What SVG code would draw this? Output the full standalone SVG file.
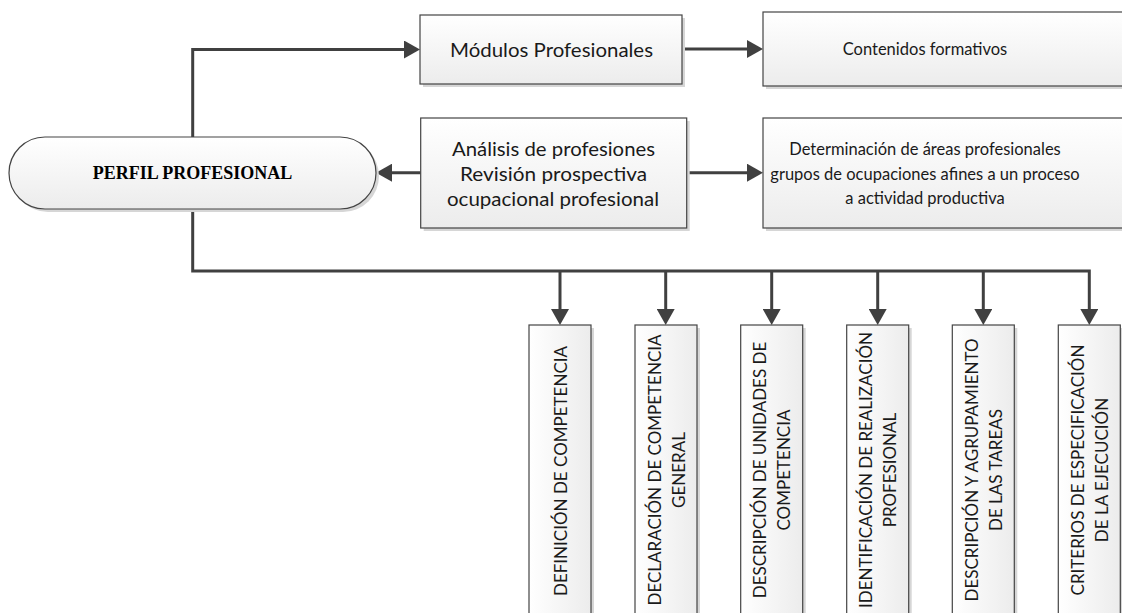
<svg xmlns="http://www.w3.org/2000/svg" width="1122" height="613" viewBox="0 0 1122 613">
<defs>
<linearGradient id="gv" x1="0" y1="0" x2="0" y2="1"><stop offset="0" stop-color="#ffffff"/><stop offset="1" stop-color="#ececec"/></linearGradient>
<linearGradient id="gh" x1="0" y1="0" x2="1" y2="0"><stop offset="0" stop-color="#ffffff"/><stop offset="1" stop-color="#ececec"/></linearGradient>
<marker id="ah" markerUnits="userSpaceOnUse" markerWidth="17" markerHeight="18" refX="8" refY="9" orient="auto"><path d="M0,0 L16,9 L0,18 z" fill="#404040"/></marker>
<style>
.bx{fill:url(#gv);stroke:#444444;stroke-width:1.2}
.bv{fill:url(#gh);stroke:#444444;stroke-width:1.2}
.sh{fill:#d6d6d6}
.t{font-family:Lato,"Open Sans",sans-serif;font-size:16.5px;fill:#1a1a1a;text-anchor:middle;dominant-baseline:central}
.tl{font-family:Lato,"Open Sans",sans-serif;font-size:19.5px;fill:#1a1a1a;text-anchor:middle;dominant-baseline:central}
.tv{font-family:Lato,"Open Sans",sans-serif;font-size:17px;fill:#1a1a1a;text-anchor:middle;dominant-baseline:central}
.tp{font-family:"Liberation Serif",serif;font-size:18px;font-weight:bold;fill:#000;text-anchor:middle;dominant-baseline:central}
.c{fill:none;stroke:#404040;stroke-width:3}
</style>
</defs>
<g id="connectors">
<path class="c" d="M192.7,137 V49.5 H412" marker-end="url(#ah)"/>
<path class="c" d="M682,49 H755" marker-end="url(#ah)"/>
<path class="c" d="M420.7,172.7 H384" marker-end="url(#ah)"/>
<path class="c" d="M687,172.7 H755" marker-end="url(#ah)"/>
<path class="c" d="M192.7,209 V271 H1089.3 V317" marker-end="url(#ah)"/>
<path class="c" d="M560,271 V317" marker-end="url(#ah)"/>
<path class="c" d="M665.7,271 V317" marker-end="url(#ah)"/>
<path class="c" d="M771.7,271 V317" marker-end="url(#ah)"/>
<path class="c" d="M877.7,271 V317" marker-end="url(#ah)"/>
<path class="c" d="M983.3,271 V317" marker-end="url(#ah)"/>
</g>
<g id="perfil">
<rect class="sh" x="12" y="140" width="367" height="72" rx="36"/>
<rect class="bx" x="9" y="137" width="367" height="72" rx="36"/>
<text class="tp" x="192.5" y="173">PERFIL PROFESIONAL</text>
</g>
<g id="modulos">
<rect class="sh" x="423" y="18" width="262" height="69"/>
<rect class="bx" x="420" y="15" width="262" height="69"/>
<text class="tl" x="551.5" y="49.5" textLength="203" lengthAdjust="spacingAndGlyphs">Módulos Profesionales</text>
</g>
<g id="contenidos">
<rect class="sh" x="766" y="15" width="370" height="74"/>
<rect class="bx" x="763" y="12" width="370" height="74"/>
<text class="t" x="925" y="49">Contenidos formativos</text>
</g>
<g id="analisis">
<rect class="sh" x="423.7" y="121" width="266" height="110"/>
<rect class="bx" x="420.7" y="118" width="266" height="110"/>
<text class="tl" x="553.5" y="148" textLength="203" lengthAdjust="spacingAndGlyphs">Análisis de profesiones</text>
<text class="tl" x="553.5" y="173" textLength="187" lengthAdjust="spacingAndGlyphs">Revisión prospectiva</text>
<text class="tl" x="553" y="198.5" textLength="212" lengthAdjust="spacingAndGlyphs">ocupacional profesional</text>
</g>
<g id="determinacion">
<rect class="sh" x="766" y="121" width="370" height="110"/>
<rect class="bx" x="763" y="118" width="370" height="110"/>
<text class="t" x="925" y="149">Determinación de áreas profesionales</text>
<text class="t" x="925" y="173.5">grupos de ocupaciones afines a un proceso</text>
<text class="t" x="925" y="198">a actividad productiva</text>
</g>
<g id="v1">
<rect class="sh" x="532" y="328" width="62" height="300"/>
<rect class="bv" x="529" y="325" width="62" height="300"/>
<text class="tv" transform="translate(560,471) rotate(-90)" x="0" y="0">DEFINICIÓN DE COMPETENCIA</text>
</g>
<g id="v2">
<rect class="sh" x="638" y="328" width="62" height="300"/>
<rect class="bv" x="635" y="325" width="62" height="300"/>
<text class="tv" transform="translate(666,470) rotate(-90)" x="0" y="-12">DECLARACIÓN DE COMPETENCIA</text>
<text class="tv" transform="translate(666,470) rotate(-90)" x="0" y="12">GENERAL</text>
</g>
<g id="v3">
<rect class="sh" x="743.7" y="328" width="62" height="300"/>
<rect class="bv" x="740.7" y="325" width="62" height="300"/>
<text class="tv" transform="translate(771.7,470) rotate(-90)" x="0" y="-12">DESCRIPCIÓN DE UNIDADES DE</text>
<text class="tv" transform="translate(771.7,470) rotate(-90)" x="0" y="12">COMPETENCIA</text>
</g>
<g id="v4">
<rect class="sh" x="849.7" y="328" width="62" height="300"/>
<rect class="bv" x="846.7" y="325" width="62" height="300"/>
<text class="tv" transform="translate(877.5,470) rotate(-90)" x="0" y="-12">IDENTIFICACIÓN DE REALIZACIÓN</text>
<text class="tv" transform="translate(877.5,470) rotate(-90)" x="0" y="12">PROFESIONAL</text>
</g>
<g id="v5">
<rect class="sh" x="955.3" y="328" width="62" height="300"/>
<rect class="bv" x="952.3" y="325" width="62" height="300"/>
<text class="tv" transform="translate(983.2,470) rotate(-90)" x="0" y="-12">DESCRIPCIÓN Y AGRUPAMIENTO</text>
<text class="tv" transform="translate(983.2,470) rotate(-90)" x="0" y="12">DE LAS TAREAS</text>
</g>
<g id="v6">
<rect class="sh" x="1061.3" y="328" width="62" height="300"/>
<rect class="bv" x="1058.3" y="325" width="62" height="300"/>
<text class="tv" transform="translate(1089.2,470) rotate(-90)" x="0" y="-12">CRITERIOS DE ESPECIFICACIÓN</text>
<text class="tv" transform="translate(1089.2,470) rotate(-90)" x="0" y="12">DE LA EJECUCIÓN</text>
</g>
</svg>
